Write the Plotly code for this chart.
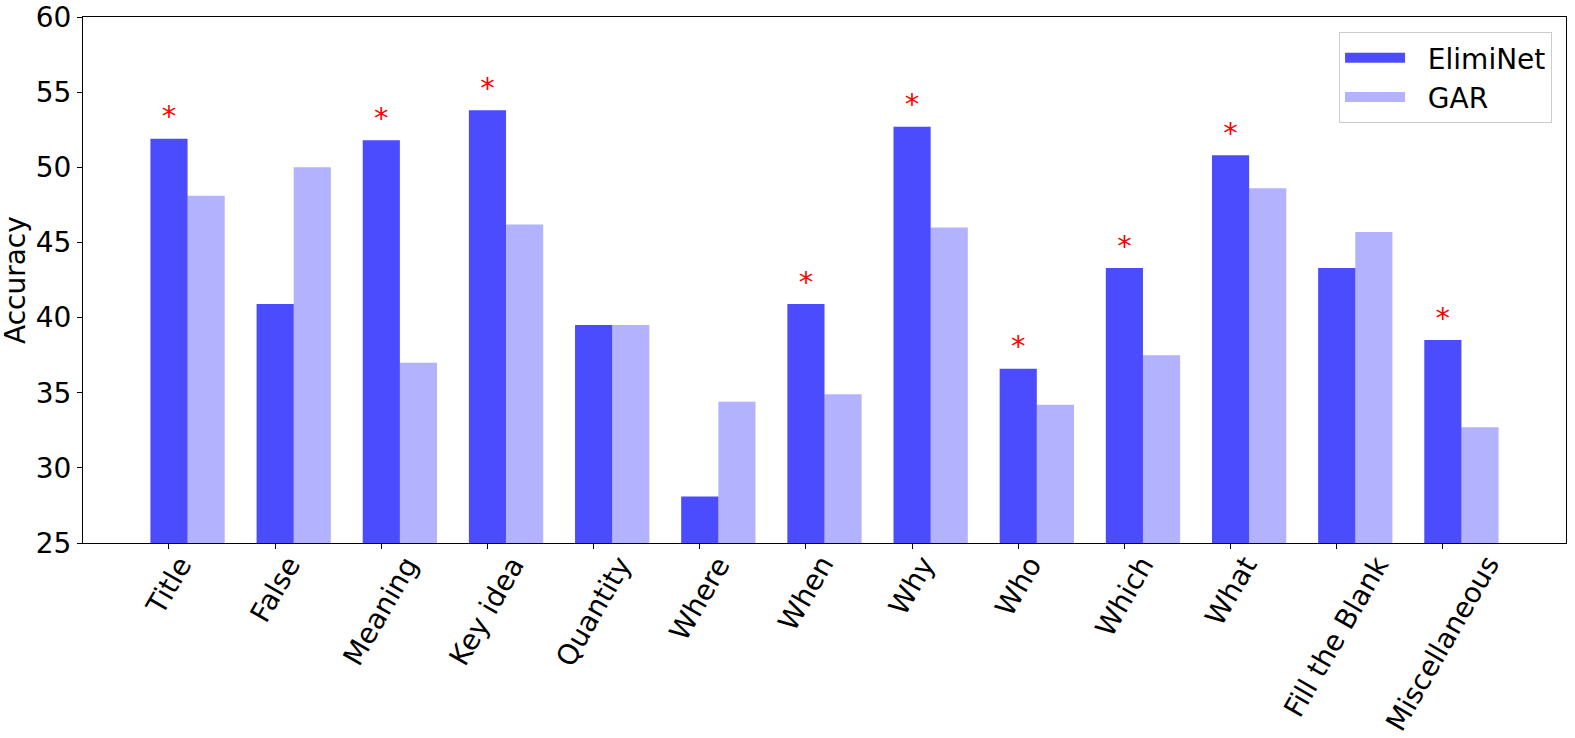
import plotly.graph_objects as go

# question types and accuracies
categories = ["Title", "False", "Meaning", "Key idea", "Quantity", "Where", "When",
              "Why", "Who", "Which", "What", "Fill the Blank", "Miscellaneous"]
eliminet = [51.9, 40.9, 51.8, 53.8, 39.5, 28.1, 40.9, 52.7, 36.6, 43.3, 50.8, 43.3, 38.5]
gar = [48.1, 50.0, 37.0, 46.2, 39.5, 34.4, 34.9, 46.0, 34.2, 37.5, 48.6, 45.7, 32.7]
# categories where ElimiNet is marked as significantly better
significant = [True, False, True, True, False, False, True, True, True, True, True, False, True]

width = 0.35
pos = list(range(len(categories)))
col_elim = "rgba(0,0,255,0.7)"
col_gar = "rgba(0,0,255,0.3)"

fig = go.Figure()
fig.add_trace(go.Bar(x=pos, y=[v - 25 for v in eliminet], base=25, width=width,
                     marker=dict(color=col_elim, line=dict(width=0)),
                     name="ElimiNet", showlegend=False))
fig.add_trace(go.Bar(x=[p + width for p in pos], y=[v - 25 for v in gar], base=25, width=width,
                     marker=dict(color=col_gar, line=dict(width=0)),
                     name="GAR", showlegend=False))

# legend-only entries drawn as thick lines, so the swatches look like wide patches
for name, col in [("ElimiNet", col_elim), ("GAR", col_gar)]:
    fig.add_trace(go.Scatter(x=[None], y=[None], mode="lines", name="&nbsp;&nbsp;" + name,
                             line=dict(color=col, width=19)))

# red stars above the significant ElimiNet bars
star_x = [p for p, s in zip(pos, significant) if s]
star_y = [v + 1.3 for v, s in zip(eliminet, significant) if s]
fig.add_trace(go.Scatter(x=star_x, y=star_y, mode="text", text=["*"] * len(star_x),
                         textposition="middle center",
                         textfont=dict(size=29, color="red", family="DejaVu Sans"),
                         showlegend=False, hoverinfo="skip"))

axis_style = dict(showline=True, linecolor="black", linewidth=1.2, mirror=True,
                  ticks="outside", ticklen=5, tickcolor="black", showgrid=False,
                  zeroline=False, automargin=False, ticklabeloverflow="allow",
                  tickfont=dict(size=28, color="black"))

# rotated category labels, centred under each tick like matplotlib does
for p, cat in zip(pos, categories):
    fig.add_annotation(x=p, y=0, xref="x", yref="paper", text=cat, textangle=-60,
                       xanchor="center", yanchor="top", showarrow=False, yshift=-5,
                       font=dict(size=28, color="black"))

fig.add_annotation(x=0, y=0.5, xref="paper", yref="paper", text="Accuracy", textangle=-90,
                   xanchor="center", yanchor="middle", showarrow=False, xshift=-68,
                   font=dict(size=28, color="black"))

fig.update_layout(
    width=1575, height=738,
    margin=dict(l=83, r=9, t=17, b=195),
    paper_bgcolor="white", plot_bgcolor="white",
    font=dict(family="DejaVu Sans", size=28, color="black"),
    legend=dict(x=0.9906, y=0.9715, xanchor="right", yanchor="top",
                bordercolor="#cccccc", borderwidth=1, bgcolor="rgba(255,255,255,0.8)",
                font=dict(size=28), itemwidth=60, tracegroupgap=0),
    showlegend=True,
)
fig.update_xaxes(range=[-0.81, 13.16], tickvals=pos, showticklabels=False, **axis_style)
fig.update_yaxes(range=[25, 60], tickvals=[25, 30, 35, 40, 45, 50, 55, 60], **axis_style)

fig.write_html("out.html", config={"displayModeBar": False},
               post_script="document.body.style.margin = '0';")
